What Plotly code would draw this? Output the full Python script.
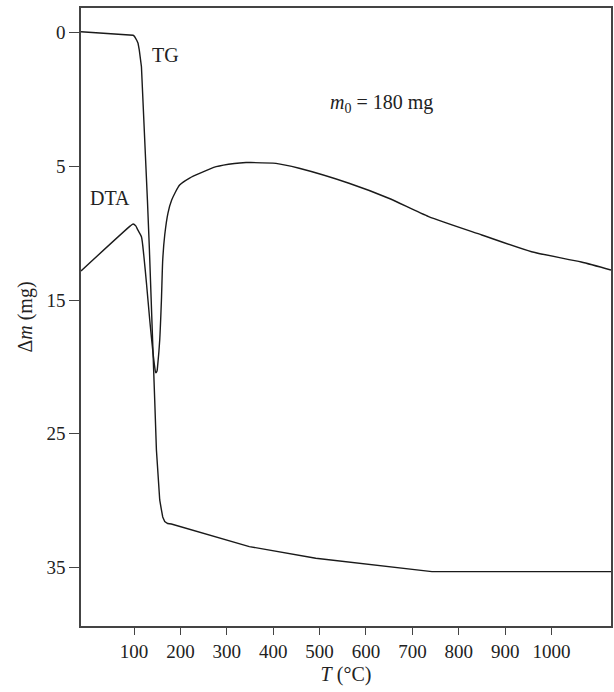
import plotly.graph_objects as go

# Temperature (°C) and mass-loss axis positions (tick-position units: 0,10,20,30,40 -> labels 0,5,15,25,35)
tg_T = [-14.4, 94.5, 97.9, 100.8, 103.7, 106.0, 108.6, 111.2, 115.9, 119.4, 124.5, 128.8,
        133.1, 137.4, 140.8, 144.5, 148.2, 151.6, 155.3, 159.0, 161.8, 166.1, 172.5,
        180.4, 348.5, 491.8, 742.2, 1128.2]
tg_m = [-0.07, 0.17, 0.19, 0.27, 0.40, 0.58, 0.79, 1.29, 2.54, 5.03, 8.77, 12.51,
        16.25, 19.99, 23.73, 27.47, 31.21, 33.46, 34.95, 35.70, 36.22, 36.56, 36.71,
        36.75, 38.44, 39.31, 40.31, 40.31]

dta_T = [-14.4, 92.0, 97.9, 103.7, 108.0, 115.9, 120.9, 126.7, 133.8, 140.2, 144.5, 146.7,
         149.5, 151.0, 155.3, 159.0, 161.8, 166.1, 173.1, 181.1, 198.2, 219.7, 241.2,
         277.0, 316.3, 341.4, 348.5, 405.9, 455.9, 563.3, 649.0, 735.1, 849.6, 957.0,
         1064.0, 1128.2]
dta_v = [17.82, 14.45, 14.31, 14.45, 14.75, 15.26, 16.63, 18.72, 21.49, 23.73, 25.0, 25.43,
         25.3, 24.85, 22.98, 19.99, 17.00, 15.13, 13.49, 12.51, 11.39, 10.87, 10.52,
         10.02, 9.78, 9.71, 9.71, 9.77, 10.14, 11.26, 12.38, 13.76, 15.13, 16.38,
         17.15, 17.75]

x_ticks = [100, 200, 300, 400, 500, 600, 700, 800, 900, 1000]
y_tickvals = [0, 10, 20, 30, 40]
y_ticktext = ["0", "5", "15", "25", "35"]

FONT = "Liberation Serif, Times New Roman, serif"
line_style = dict(color="#1a1a1a", width=1.4)

fig = go.Figure()
fig.add_trace(go.Scatter(x=tg_T, y=tg_m, mode="lines", line=dict(**line_style, shape="linear"),
                         name="TG", showlegend=False))
fig.add_trace(go.Scatter(x=dta_T, y=dta_v, mode="lines", line=dict(**line_style, shape="spline", smoothing=0.6),
                         name="DTA", showlegend=False))

fig.add_annotation(x=168, y=1.67, text="TG", showarrow=False,
                   font=dict(family=FONT, size=20, color="#222"))
fig.add_annotation(x=49, y=12.39, text="DTA", showarrow=False,
                   font=dict(family=FONT, size=20, color="#222"))
fig.add_annotation(x=634, y=5.26, text="<i>m</i><sub>0</sub> = 180 mg", showarrow=False,
                   font=dict(family=FONT, size=20, color="#222"))

fig.update_layout(
    width=614, height=692,
    margin=dict(l=81, r=1, t=8, b=66),
    paper_bgcolor="white", plot_bgcolor="white",
    font=dict(family=FONT, size=19, color="#222"),
    showlegend=False,
)
fig.update_xaxes(
    range=[-14.4, 1128.2], tickvals=x_ticks, ticks="outside", ticklen=7, tickwidth=1.3,
    tickcolor="#444", showline=True, linecolor="#444", linewidth=1.5, mirror=True,
    showgrid=False, zeroline=False,
    title=dict(text="<i>T</i> (°C)", standoff=6, font=dict(size=20)),
)
fig.update_yaxes(
    range=[44.38, -1.85], tickvals=y_tickvals, ticktext=y_ticktext, ticks="outside",
    ticklen=10, tickwidth=1.3, tickcolor="#444", showline=True, linecolor="#444",
    linewidth=1.5, mirror=True, showgrid=False, zeroline=False,
    title=dict(text="Δ<i>m</i> (mg)", standoff=8, font=dict(size=20)),
)

fig.write_html("out.html")
